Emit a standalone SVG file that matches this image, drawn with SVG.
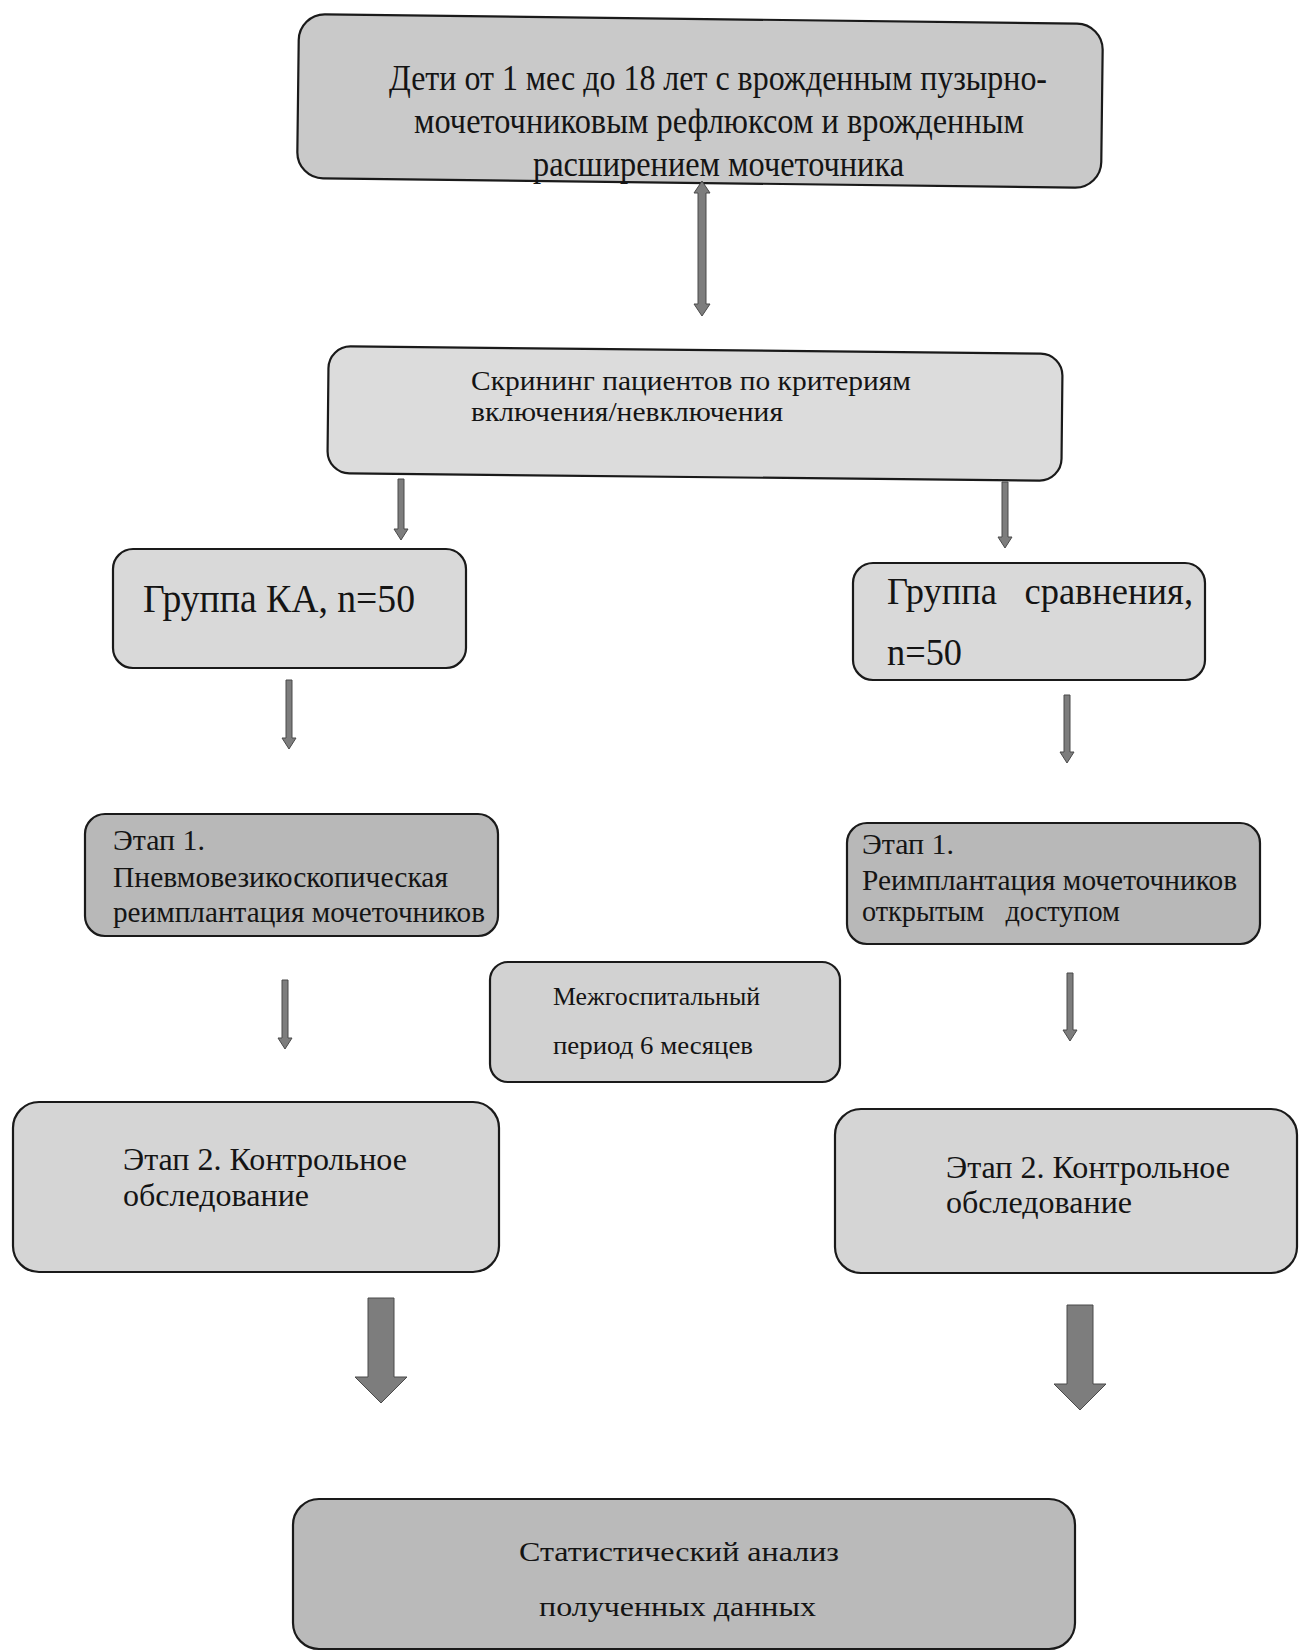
<svg xmlns="http://www.w3.org/2000/svg" width="1299" height="1651" viewBox="0 0 1299 1651">
<style>
.box{stroke:#1a1a1a;stroke-width:2.2}
.t{font-family:"Liberation Serif","Times New Roman",serif;fill:#141414}
.arr{fill:#7d7d7d;stroke:#4a4a4a;stroke-width:1}
</style>
<rect width="1299" height="1651" fill="#ffffff"/>
<g id="node-top">
<rect class="box" x="298" y="19" width="804" height="164" rx="26" fill="#c9c9c9" transform="rotate(0.7 700 101)"/>
<text class="t" font-size="36" x="389" y="90" textLength="658" lengthAdjust="spacingAndGlyphs">Дети от 1 мес до 18 лет с врожденным пузырно-</text>
<text class="t" font-size="36" x="414" y="133" textLength="610" lengthAdjust="spacingAndGlyphs">мочеточниковым рефлюксом и врожденным</text>
<text class="t" font-size="36" x="533" y="176" textLength="371" lengthAdjust="spacingAndGlyphs">расширением мочеточника</text>
</g>
<g id="node-screening">
<rect class="box" x="328" y="350" width="734" height="127" rx="22" fill="#dcdcdc" transform="rotate(0.6 695 413)"/>
<text class="t" font-size="27" x="471" y="390" textLength="440" lengthAdjust="spacingAndGlyphs">Скрининг пациентов по критериям</text>
<text class="t" font-size="27" x="471" y="421" textLength="312" lengthAdjust="spacingAndGlyphs">включения/невключения</text>
</g>
<g id="node-ka">
<rect class="box" x="113" y="549" width="353" height="119" rx="20" fill="#d9d9d9"/>
<text class="t" font-size="40" x="143" y="612" textLength="272" lengthAdjust="spacingAndGlyphs">Группа КА, n=50</text>
</g>
<g id="node-comparison">
<rect class="box" x="853" y="563" width="352" height="117" rx="20" fill="#d9d9d9"/>
<text class="t" font-size="38" x="887" y="604" textLength="306" lengthAdjust="spacingAndGlyphs" xml:space="preserve">Группа   сравнения,</text>
<text class="t" font-size="38" x="887" y="665" textLength="75" lengthAdjust="spacingAndGlyphs">n=50</text>
</g>
<g id="node-stage1-left">
<rect class="box" x="85" y="814" width="413" height="122" rx="20" fill="#b8b8b8"/>
<text class="t" font-size="30" x="113" y="850" textLength="92" lengthAdjust="spacingAndGlyphs">Этап 1.</text>
<text class="t" font-size="30" x="113" y="887" textLength="335" lengthAdjust="spacingAndGlyphs">Пневмовезикоскопическая</text>
<text class="t" font-size="30" x="113" y="922" textLength="372" lengthAdjust="spacingAndGlyphs">реимплантация мочеточников</text>
</g>
<g id="node-stage1-right">
<rect class="box" x="847" y="823" width="413" height="121" rx="20" fill="#b8b8b8"/>
<text class="t" font-size="30" x="862" y="854" textLength="92" lengthAdjust="spacingAndGlyphs">Этап 1.</text>
<text class="t" font-size="30" x="862" y="890" textLength="375" lengthAdjust="spacingAndGlyphs">Реимплантация мочеточников</text>
<text class="t" font-size="30" x="862" y="921" textLength="258" lengthAdjust="spacingAndGlyphs" xml:space="preserve">открытым   доступом</text>
</g>
<g id="node-interval">
<rect class="box" x="490" y="962" width="350" height="120" rx="18" fill="#d2d2d2"/>
<text class="t" font-size="26" x="553" y="1005" textLength="207" lengthAdjust="spacingAndGlyphs">Межгоспитальный</text>
<text class="t" font-size="26" x="553" y="1054" textLength="200" lengthAdjust="spacingAndGlyphs">период 6 месяцев</text>
</g>
<g id="node-stage2-left">
<rect class="box" x="13" y="1102" width="486" height="170" rx="26" fill="#d5d5d5"/>
<text class="t" font-size="31" x="123" y="1170" textLength="284" lengthAdjust="spacingAndGlyphs">Этап 2. Контрольное</text>
<text class="t" font-size="31" x="123" y="1206" textLength="186" lengthAdjust="spacingAndGlyphs">обследование</text>
</g>
<g id="node-stage2-right">
<rect class="box" x="835" y="1109" width="462" height="164" rx="26" fill="#d5d5d5"/>
<text class="t" font-size="31" x="946" y="1178" textLength="284" lengthAdjust="spacingAndGlyphs">Этап 2. Контрольное</text>
<text class="t" font-size="31" x="946" y="1213" textLength="186" lengthAdjust="spacingAndGlyphs">обследование</text>
</g>
<g id="node-statistics">
<rect class="box" x="293" y="1499" width="782" height="150" rx="26" fill="#bababa"/>
<text class="t" font-size="28" x="519" y="1561" textLength="320" lengthAdjust="spacingAndGlyphs">Статистический анализ</text>
<text class="t" font-size="28" x="539" y="1616" textLength="277" lengthAdjust="spacingAndGlyphs">полученных данных</text>
</g>
<g id="connectors">
<path class="arr" d="M702 181 L710 193 L706 193 L706 304 L710 304 L702 316 L694 304 L698 304 L698 193 L694 193 Z"/>
<path class="arr" d="M398 479 L404 479 L404 529 L408 529 L401 540 L394 529 L398 529 Z"/>
<path class="arr" d="M1002 482 L1008 482 L1008 537 L1012 537 L1005 548 L998 537 L1002 537 Z"/>
<path class="arr" d="M286 680 L292 680 L292 738 L296 738 L289 749 L282 738 L286 738 Z"/>
<path class="arr" d="M1064 695 L1070 695 L1070 752 L1074 752 L1067 763 L1060 752 L1064 752 Z"/>
<path class="arr" d="M282 980 L288 980 L288 1038 L292 1038 L285 1049 L278 1038 L282 1038 Z"/>
<path class="arr" d="M1067 973 L1073 973 L1073 1030 L1077 1030 L1070 1041 L1063 1030 L1067 1030 Z"/>
<path class="arr" d="M368 1298 L394 1298 L394 1377 L407 1377 L381 1403 L355 1377 L368 1377 Z"/>
<path class="arr" d="M1067 1305 L1093 1305 L1093 1384 L1106 1384 L1080 1410 L1054 1384 L1067 1384 Z"/>
</g>
</svg>
